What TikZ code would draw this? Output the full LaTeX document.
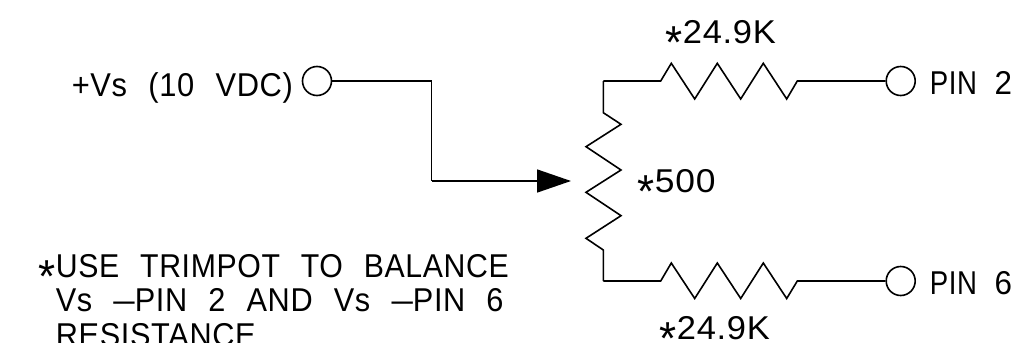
\documentclass[tikz,border=0pt]{standalone}
\usepackage{fontspec}
\setmainfont{Liberation Sans}[LetterSpace=2,WordSpace=2.3,FakeStretch=0.95]
\usetikzlibrary{arrows.meta}
\newcommand{\astmark}{\raisebox{-15pt}{\scalebox{1.4}{*}}}
\newcommand{\wide}[2]{\scalebox{#1}[1]{#2}}
\tikzset{every picture/.style={line width=1.6pt},
  pinnode/.style={draw,circle,minimum size=29pt,inner sep=0pt},
  labeltext/.style={anchor=base west,inner sep=0pt,font=\fontsize{33}{35}\selectfont},
  wire/.style={line join=miter}}

\begin{document}
\begin{tikzpicture}[x=1pt,y=1pt,yscale=-1,xscale=1]
\useasboundingbox (0,0) rectangle (1013,343);

% Terminals
\node [pinnode] (vs) at (317,81) {};
\node [pinnode] (pintwo) at (900.7,81) {};
\node [pinnode] (pinsix) at (900.7,281) {};

% Corner points
\coordinate (bendtop) at (431.5,81);
\coordinate (bendlow) at (431.5,181);
\coordinate (wiper) at (571,181);
\coordinate (corntop) at (603.3,81);
\coordinate (cornlow) at (603.3,281);

%Straight Lines
\draw [wire] (vs) -- (bendtop) -- (bendlow);
\draw [wire,-{Triangle[length=34pt,width=23pt]}] (bendlow) -- (wiper);

%Upper resistor
\draw [wire] (corntop) -- (660.7,81) -- (671.3,63.3) -- (694.7,99) -- (717.3,63.3) -- (740.7,99) -- (763.3,63.3) -- (786.7,99) -- (797.3,81) -- (pintwo);
%Lower resistor
\draw [wire] (cornlow) -- (660.7,281) -- (671.3,263) -- (694.7,298.5) -- (717.3,263) -- (740.7,298.5) -- (763.3,263) -- (786.7,298.5) -- (797.3,281) -- (pinsix);
%Trimpot
\draw [wire] (corntop) -- (603.3,112.7) -- (621,124.3) -- (586,146.7) -- (621,170) -- (586,192.3) -- (621,215.7) -- (586,238.3) -- (603.3,250) -- (cornlow);

% Text Node
\node [labeltext] (vslabel) at (71,96) {\wide{.985}{+Vs (10 VDC)}};
% Text Node
\node [labeltext] (pintwolabel) at (929,94.3) {\wide{.88}{PIN}\hspace{-4pt} 2};
% Text Node
\node [labeltext] (pinsixlabel) at (929,294.3) {\wide{.88}{PIN}\hspace{-4pt} 6};
% Text Node
\node [labeltext] (rtoplabel) at (665,43.3) {\astmark\wide{1.1}{24.9K}};
% Text Node
\node [labeltext] (rlowlabel) at (659,339.3) {\astmark\wide{1.1}{24.9K}};
% Text Node
\node [labeltext] (trimlabel) at (637,192.7) {\astmark\wide{1.13}{500}};
% Text Node
\node [labeltext] (noteone) at (38,277) {\astmark\wide{.965}{USE TRIMPOT TO BALANCE}};
% Text Node
\node [labeltext] (notetwo) at (55,311.7) {\wide{.98}{Vs \wide{1.25}{--}PIN 2 AND Vs \wide{1.25}{--}PIN 6}};
% Text Node
\node [labeltext] (notethree) at (55,346) {\wide{.98}{RESISTANCE}};

\end{tikzpicture}
\end{document}
